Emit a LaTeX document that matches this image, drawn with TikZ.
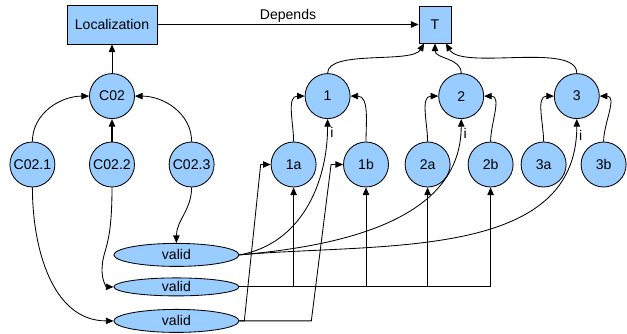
\documentclass[tikz,border=0pt]{standalone}
\usepackage{fontspec}
\setmainfont{Liberation Sans}
\usetikzlibrary{arrows.meta,positioning,shapes.geometric}
\definecolor{nodeblue}{RGB}{153,204,255}

\begin{document}
\begin{tikzpicture}[
  font=\fontsize{10}{12}\selectfont,
  box/.style={draw, fill=nodeblue, inner sep=0pt, line width=0.6pt, on grid},
  crc/.style={draw, circle, fill=nodeblue, minimum size=1.125cm, inner sep=0pt, line width=0.6pt, on grid},
  vld/.style={draw, ellipse, fill=nodeblue, minimum width=3.125cm, minimum height=0.575cm, inner sep=0pt, line width=0.6pt, on grid},
  arr/.style={-{Triangle[length=0.19cm,width=0.16cm]}, line width=0.6pt},
  lbl/.style={anchor=west, inner sep=2pt},
]
\useasboundingbox (0,0) rectangle (15.675,-8.35);
\node[box, minimum width=2.25cm, minimum height=0.975cm] (loc) at (2.8,-0.6125) {Localization};
\node[box, minimum width=0.8cm, minimum height=0.925cm, right=8.075cm of loc] (t) {T};
\node[crc, below=1.79cm of loc] (c02) {C02};
\node[crc, below=1.71cm of c02] (c022) {C02.2};
\node[crc, left=1.99cm of c022] (c021) {C02.1};
\node[crc, right=1.99cm of c022] (c023) {C02.3};
\node[crc, right=5.39cm of c02] (n1) {1};
\node[crc, right=3.34cm of n1] (n2) {2};
\node[crc, right=2.89cm of n2] (n3) {3};
\node[crc, below left=1.71cm and 0.85cm of n1] (a1) {1a};
\node[crc, right=1.81cm of a1] (b1) {1b};
\node[crc, right=1.54cm of b1] (a2) {2a};
\node[crc, right=1.575cm of a2] (b2) {2b};
\node[crc, right=1.325cm of b2] (a3) {3a};
\node[crc, right=1.5cm of a3] (b3) {3b};
\node[vld, below right=2.26cm and 1.61cm of c022] (v1) {valid};
\node[vld, minimum height=0.45cm, below=0.8cm of v1] (v2) {valid};
\node[vld, below=0.85cm of v2] (v3) {valid};

\draw[arr] (loc) -- node[above, inner sep=1pt] {Depends} (t);
\draw[arr] (c02) -- (loc);
\draw[arr] (c021) to[out=90,in=180] (c02);
\draw[arr, line width=1.2pt] (c022) -- (c02);
\draw[arr] (c023) to[out=90,in=0] (c02);
\draw[arr] (n1) to[out=90,in=-120,looseness=0.6] (t);
\draw[arr] (n2) to[out=90,in=-90] (t);
\draw[arr] (n3) to[out=90,in=-60,looseness=0.6] (t);
\foreach \p in {1,2,3} {
  \draw[arr] (a\p) to[out=90,in=180] (n\p);
  \draw[arr] (b\p) to[out=90,in=0] (n\p);
}

\draw[arr] (c023) to[out=-90,in=90] (v1);
\draw[arr] (c022.south) .. controls +(0,-1.6) and +(0,0.6) .. ++(-0.25,-2.1) to[out=-90,in=180] (v2.west);
\draw[arr] (c021) to[out=-90,in=180] (v3);

\draw[arr] (v1.east) to[out=10,in=-90] node[pos=0.93, lbl] {i} (n1);
\draw[arr] (v1.east) to[out=5,in=-90] node[pos=0.95, lbl] {i} (n2);
\draw[arr] (v1.east) to[out=5,in=-90] node[pos=0.96, lbl] {i} (n3);
\draw[arr] (v2.east) -| (a1);
\draw[arr] (v2.east) -| (b1);
\draw[arr] (v2.east) -| (a2);
\draw[arr] (v2.east) -| (b2);
\draw[arr] (v3.east) -- ++(0.125,0) -- ([xshift=-0.25cm]a1.west) -- (a1.west);
\draw[arr] (v3.east) -- ++(1.8,0) -- ([xshift=-0.3cm]b1.west) -- (b1.west);
\end{tikzpicture}
\end{document}
